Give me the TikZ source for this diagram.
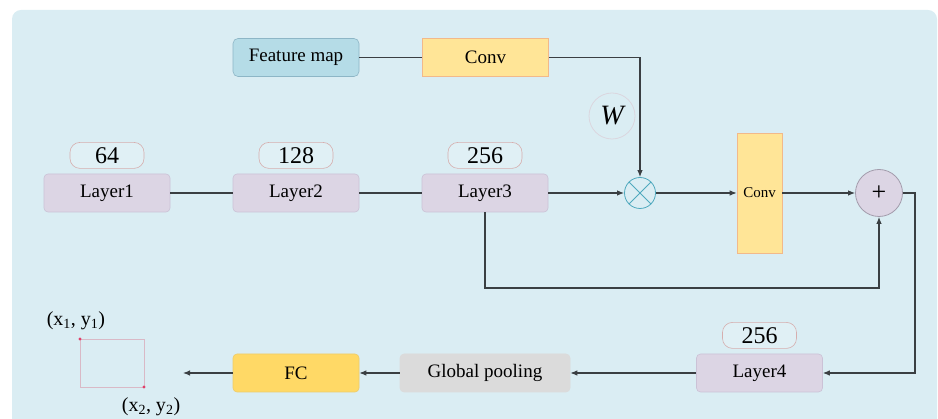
\documentclass[tikz,border=0pt]{standalone}
\usepackage{fontspec}
\setmainfont{Liberation Serif}
\usetikzlibrary{arrows.meta,positioning}
\definecolor{netBack}{HTML}{DAEDF3}
\definecolor{netLine}{HTML}{3A3F42}
\definecolor{netLayer}{HTML}{DCD5E4}
\definecolor{netLayerEdge}{HTML}{CBC2D6}
\definecolor{netFeat}{HTML}{B5DCE7}
\definecolor{netFeatEdge}{HTML}{8DB6C6}
\definecolor{netConv}{HTML}{FFE597}
\definecolor{netConvEdge}{HTML}{F2B98A}
\definecolor{netFC}{HTML}{FFD966}
\definecolor{netFCEdge}{HTML}{EDCB6A}
\definecolor{netPool}{HTML}{DBDBDB}
\definecolor{netNumEdge}{HTML}{D6AEAE}
\definecolor{netNumFill}{HTML}{E0F0F5}
\definecolor{netTeal}{HTML}{4FA9BE}
\definecolor{netRed}{HTML}{E0406A}
\definecolor{netBox}{HTML}{D9B9C6}
\tikzset{
  net link/.style={draw=netLine, line width=1.1pt},
  net arrow/.style={net link, -{Latex[length=7pt,width=5.5pt]}},
  net box/.style={minimum width=126pt, minimum height=38pt, inner sep=0pt, line width=0.6pt, font=\fontsize{19}{22}\selectfont},
  net layer/.style={net box, rounded corners=4pt, draw=netLayerEdge, fill=netLayer},
  net num/.style={rounded corners=10pt, draw=netNumEdge, fill=netNumFill, line width=0.6pt, minimum width=74pt, minimum height=26pt, inner sep=0pt, font=\fontsize{24}{26}\selectfont},
  net conv/.style={net box, draw=netConvEdge, fill=netConv},
  net op/.style={circle, inner sep=0pt, line width=0.8pt},
  net coord/.style={font=\fontsize{20}{22}\selectfont},
}
\begin{document}
\begin{tikzpicture}[x=1pt,y=-1pt]
\useasboundingbox (0,0) rectangle (938,419);
\fill[netBack, rounded corners=9pt] (12,10) rectangle (937,440);
% top branch
\node[net box, rounded corners=5pt, draw=netFeatEdge, fill=netFeat] (feat) at (296,57.5) {Feature map};
\node[net conv] (conv1) at (485.5,57.5) {Conv};
\node[net op, draw=netBox!45!netBack, minimum size=46pt, font=\fontsize{28}{30}\selectfont\itshape] (wt) at (612,116) {W};
% backbone
\node[net layer] (l1) at (107,193) {Layer1};
\node[net layer] (l2) at (296,193) {Layer2};
\node[net layer] (l3) at (485,193) {Layer3};
\node[net num, above=5pt of l1] (n1) {64};
\node[net num, above=5pt of l2] (n2) {128};
\node[net num, above=5pt of l3] (n3) {256};
\node[net op, draw=netTeal, minimum size=31pt] (mul) at (640,193) {};
\draw[netTeal, line width=0.8pt] (mul.north east) -- (mul.south west) (mul.north west) -- (mul.south east);
\node[net conv, minimum width=45pt, minimum height=120pt, font=\fontsize{15}{17}\selectfont] (conv2) at (759.5,193) {Conv};
\node[net op, draw=netLayerEdge!80!black, fill=netLayer, minimum size=47pt, font=\fontsize{26}{28}\selectfont] (add) at (879,193) {+};
% head
\node[net layer] (l4) at (759.5,373) {Layer4};
\node[net num, above=5pt of l4] (n4) {256};
\node[net box, rounded corners=4pt, draw=netPool, fill=netPool, minimum width=170pt] (pool) at (485,373) {Global pooling};
\node[net box, rounded corners=4pt, draw=netFCEdge, fill=netFC] (fc) at (296,373) {FC};
\coordinate (out) at (183,373);
\coordinate (skip) at (485,288);
\coordinate (turn) at (915,193);
% output box
\draw[netBox, line width=0.8pt] (80,339) rectangle (144,387);
\fill[netRed] (80,339) circle (1.6pt) (144,387) circle (1.6pt);
\node[net coord] (p1) at (76,321) {(x\textsubscript{1}, y\textsubscript{1})};
\node[net coord] (p2) at (151,407) {(x\textsubscript{2}, y\textsubscript{2})};
% connectors
\draw[net link] (feat) -- (conv1);
\draw[net arrow] (conv1.east) -| (mul.north);
\draw[net link] (l1) -- (l2);
\draw[net link] (l2) -- (l3);
\draw[net arrow] (l3) -- (mul);
\draw[net arrow] (mul) -- (conv2);
\draw[net arrow] (conv2) -- (add);
\draw[net arrow] (l3.south) -- (skip) -| (add.south);
\draw[net arrow] (add.east) -- (turn) |- (l4.east);
\draw[net arrow] (l4) -- (pool);
\draw[net arrow] (pool) -- (fc);
\draw[net arrow] (fc) -- (out);
\end{tikzpicture}
\end{document}
